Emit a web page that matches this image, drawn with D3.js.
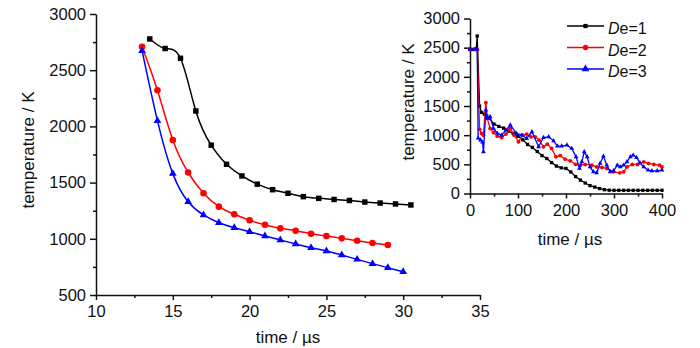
<!DOCTYPE html>
<html>
<head>
<meta charset="utf-8">
<script src="https://cdnjs.cloudflare.com/ajax/libs/d3/7.8.5/d3.min.js"></script>
<style>
body { margin: 0; background: #fff; }
svg text { font-family: "Liberation Sans", Arial, sans-serif; fill: #111; }
.axis path, .axis line { stroke: #111; stroke-width: 1.5px; }
.axis text { font-size: 16.5px; }
</style>
</head>
<body>
<svg id="chart" width="700" height="348"></svg>
<script>
// main panel: cooling curves, 13-31 µs
var mainTimeDe1 = [13.5, 14.5, 15.5, 16.5, 17.5, 18.5, 19.5, 20.5, 21.5, 22.5, 23.5, 24.5, 25.5, 26.5, 27.5, 28.5, 29.5, 30.5];
var mainTempDe1 = [2778, 2693, 2606, 2137, 1833, 1663, 1559, 1486, 1437, 1405, 1375, 1360, 1350, 1341, 1327, 1318, 1310, 1301];
var mainTimeDe2 = [13, 14, 15, 16, 17, 18, 19, 20, 21, 22, 23, 24, 25, 26, 27, 28, 29];
var mainTempDe2 = [2709, 2321, 1879, 1590, 1405, 1286, 1218, 1165, 1125, 1093, 1072, 1045, 1025, 1004, 983, 963, 945];
var mainTimeDe3 = [13, 14, 15, 16, 17, 18, 19, 20, 21, 22, 23, 24, 25, 26, 27, 28, 29, 30];
var mainTempDe3 = [2674, 2051, 1580, 1330, 1212, 1143, 1099, 1063, 1025, 990, 954, 921, 892, 856, 817, 779, 743, 707];

// inset: full 0-400 µs history
var insetTimeDe1 = [0, 5, 10, 13, 15, 20, 24, 30, 35, 40, 50, 60, 70, 80, 90, 100, 110, 120, 130, 140, 150, 160, 170, 180, 190, 200, 210, 220, 230, 240, 250, 260, 270, 280, 290, 300, 310, 320, 330, 340, 350, 360, 370, 380, 390, 400];
var insetTempDe1 = [2470, 2470, 2470, 2480, 2700, 1500, 1390, 1360, 1330, 1290, 1190, 1150, 1120, 1070, 1030, 980, 920, 840, 790, 720, 650, 600, 530, 470, 440, 430, 370, 290, 230, 180, 135, 110, 85, 65, 57, 55, 55, 55, 55, 55, 55, 55, 55, 55, 55, 55];
var insetTimeDe2 = [0, 10, 15, 20, 24, 28, 33, 36, 42, 49, 57, 66, 75, 84, 92, 101, 110, 118, 127, 136, 144, 153, 161, 170, 179, 188, 198, 209, 220, 230, 240, 254, 264, 275, 285, 299, 312, 320, 327, 338, 349, 362, 372, 383, 395, 400];
var insetTempDe2 = [2470, 2470, 2470, 1100, 1030, 1000, 1555, 1287, 1115, 1047, 983, 961, 1018, 1115, 1000, 886, 1000, 1018, 971, 971, 915, 800, 846, 772, 628, 650, 590, 560, 500, 486, 498, 486, 456, 446, 429, 371, 354, 371, 456, 498, 498, 542, 515, 498, 486, 456];
var insetTimeDe3 = [0, 10, 15, 17, 22, 26, 28, 33, 36, 42, 49, 57, 66, 75, 84, 97, 108, 118, 129, 143, 153, 164, 174, 182, 191, 202, 212, 221, 228, 233, 238, 244, 250, 257, 264, 271, 278, 285, 292, 299, 307, 313, 320, 327, 334, 340, 347, 354, 362, 371, 379, 390, 400];
var insetTempDe3 = [2470, 2470, 2470, 950, 915, 880, 714, 1430, 1287, 1315, 1115, 1030, 1000, 1086, 1172, 1030, 1000, 943, 1057, 800, 960, 971, 903, 812, 812, 829, 772, 628, 429, 542, 714, 628, 456, 371, 354, 515, 640, 486, 371, 388, 486, 456, 486, 542, 628, 657, 617, 525, 456, 400, 388, 388, 400];

// ticks
var mainXTicks = [10, 15, 20, 25, 30, 35];
var mainXMinor = [12.5, 17.5, 22.5, 27.5, 32.5];
var mainYTicks = [500, 1000, 1500, 2000, 2500, 3000];
var mainYMinor = [750, 1250, 1750, 2250, 2750];
var insetXTicks = [0, 100, 200, 300, 400];
var insetXMinor = [50, 150, 250, 350];
var insetYTicks = [0, 500, 1000, 1500, 2000, 2500, 3000];
var insetYMinor = [250, 750, 1250, 1750, 2250, 2750];

var seriesLabels = ["1", "2", "3"];
var seriesColors = ["#000000", "#ff0000", "#0000ff"];
var seriesSymbols = [d3.symbolSquare, d3.symbolCircle, d3.symbolTriangle];

var svg = d3.select("#chart");
var fmt = d3.format("d");

var xMain = d3.scaleLinear().domain([10, 35]).range([96, 480]);
var yMain = d3.scaleLinear().domain([500, 3000]).range([295, 14]);
var xInset = d3.scaleLinear().domain([0, 400]).range([470, 662]);
var yInset = d3.scaleLinear().domain([0, 3000]).range([193.5, 18.5]);

function addAxis(axis, tx, ty) {
	return svg.append("g")
	.attr("class", "axis")
	.attr("transform", "translate(" + tx + "," + ty + ")")
	.call(axis);
}

function minorTicks(axis, values) {
	return axis.tickValues(values).tickSize(3).tickSizeOuter(0).tickFormat("");
}

function drawPanel(x, y, xTicks, xMinor, yTicks, yMinor, xPad) {
	var x0 = x.range()[0], y0 = y.range()[0];

	addAxis(d3.axisBottom(x).tickValues(xTicks).tickFormat(fmt).tickSize(5).tickPadding(xPad).tickSizeOuter(0), 0, y0);
	addAxis(minorTicks(d3.axisBottom(x), xMinor), 0, y0).select(".domain").remove();

	addAxis(d3.axisLeft(y).tickValues(yTicks).tickFormat(fmt).tickSize(6).tickPadding(4).tickSizeOuter(0), x0, 0);
	addAxis(minorTicks(d3.axisLeft(y), yMinor), x0, 0).select(".domain").remove();

	svg.selectAll(".axis text").attr("fill", "#111");
}

function drawSeries(x, y, times, temps, i, markSize, width, curve) {
	var pts = times.map(function(t, k) { return {t: t, v: temps[k]}; });

	var line = d3.line()
	.x(function(d) { return x(d.t); })
	.y(function(d) { return y(d.v); })
	.curve(curve);

	svg.append("path")
	.datum(pts)
	.attr("d", line)
	.attr("fill", "none")
	.attr("stroke", seriesColors[i])
	.attr("stroke-width", width);

	var sym = d3.symbol().type(seriesSymbols[i]).size(markSize[i]);

	svg.append("g")
	.selectAll("path")
	.data(pts)
	.enter().append("path")
	.attr("d", sym)
	.attr("fill", seriesColors[i])
	.attr("transform", function(d) { return "translate(" + x(d.t) + "," + y(d.v) + ")"; });
}

function axisTitle(text, cx, cy, rotate) {
	var t = svg.append("text")
	.attr("text-anchor", "middle")
	.attr("font-size", "17px")
	.text(text);
	if (rotate) {
		t.attr("transform", "translate(" + cx + "," + cy + ") rotate(-90)");
	} else {
		t.attr("x", cx).attr("y", cy);
	}
}

// main panel
drawPanel(xMain, yMain, mainXTicks, mainXMinor, mainYTicks, mainYMinor, 5);
var mainMarks = [30, 34, 26];
drawSeries(xMain, yMain, mainTimeDe1, mainTempDe1, 0, mainMarks, 1.5, d3.curveNatural);
drawSeries(xMain, yMain, mainTimeDe2, mainTempDe2, 1, mainMarks, 1.5, d3.curveNatural);
drawSeries(xMain, yMain, mainTimeDe3, mainTempDe3, 2, mainMarks, 1.5, d3.curveNatural);
axisTitle("time / \u00b5s", 288, 343, false);
axisTitle("temperature / K", 34, 150, true);

// inset
drawPanel(xInset, yInset, insetXTicks, insetXMinor, insetYTicks, insetYMinor, 6);
var insetMarks = [11, 12, 10];
drawSeries(xInset, yInset, insetTimeDe1, insetTempDe1, 0, insetMarks, 1.3, d3.curveLinear);
drawSeries(xInset, yInset, insetTimeDe2, insetTempDe2, 1, insetMarks, 1.3, d3.curveLinear);
drawSeries(xInset, yInset, insetTimeDe3, insetTempDe3, 2, insetMarks, 1.3, d3.curveLinear);
axisTitle("time / \u00b5s", 570, 245, false);
axisTitle("temperature / K", 414, 102, true);

// legend
var legend = svg.append("g").attr("transform", "translate(567,26)");
var legendMarks = [18, 22, 26];

seriesLabels.forEach(function(lab, i) {
	var row = legend.append("g").attr("transform", "translate(0," + (i * 21.5) + ")");
	row.append("line")
	.attr("x1", 0).attr("x2", 37)
	.attr("stroke", seriesColors[i])
	.attr("stroke-width", 1.5);
	row.append("path")
	.attr("d", d3.symbol().type(seriesSymbols[i]).size(legendMarks[i]))
	.attr("fill", seriesColors[i])
	.attr("transform", "translate(18.5,0)");
	var txt = row.append("text")
	.attr("x", 41)
	.attr("y", 8)
	.attr("font-size", "16px");
	txt.append("tspan").attr("font-style", "italic").text("D");
	txt.append("tspan").text("e=" + lab);
});
</script>
</body>
</html>
